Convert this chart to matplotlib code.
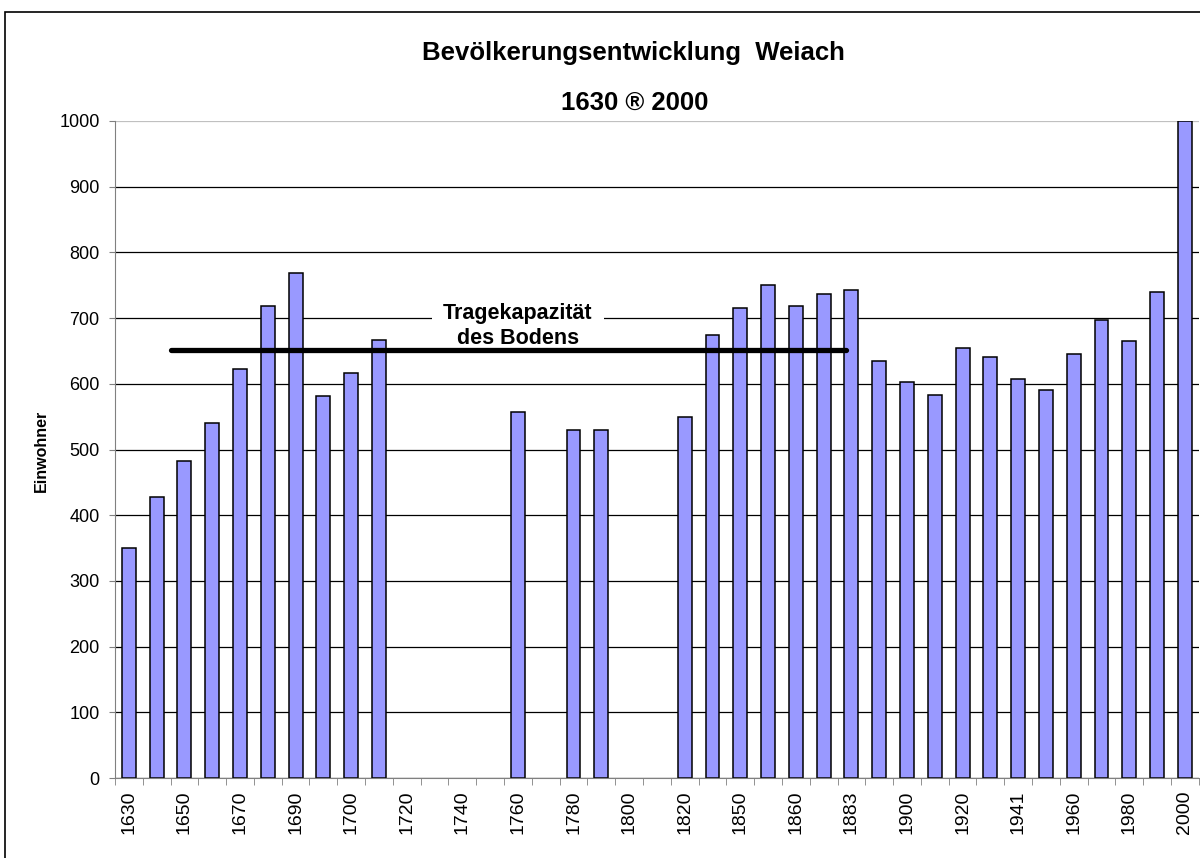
import numpy as np
import matplotlib.pyplot as plt
from matplotlib.patches import Rectangle

plt.rcParams['font.family'] = ['Liberation Sans', 'DejaVu Sans']

# 39 Kategorien, nur jede zweite beschriftet
labels = ['1630', '', '1650', '', '1670', '', '1690', '', '1700', '',
          '1720', '', '1740', '', '1760', '', '1780', '', '1800', '',
          '1820', '', '1850', '', '1860', '', '1883', '', '1900', '',
          '1920', '', '1941', '', '1960', '', '1980', '', '2000']

# Einwohner (nan = kein Wert)
einwohner = [350, 428, 482, 540, 622, 719, 768, 582, 617, 667,
             np.nan, np.nan, np.nan, np.nan, 557, np.nan, 529, 529, np.nan, np.nan,
             550, 674, 716, 751, 718, 737, 742, 634, 602, 583,
             655, 641, 608, 590, 645, 697, 665, 740, 1000]

tragekapazitaet = 651
linie_von, linie_bis = 1.5, 25.8

fig = plt.figure(figsize=(12, 8.58), dpi=100)
ax = fig.add_axes([0.0958, 0.0932, 0.9032, 0.7658])

x = np.arange(len(labels))
ax.bar(x, einwohner, width=0.5, color='#9999FF', edgecolor='black', linewidth=1.1, zorder=2)

ax.set_xlim(-0.5, len(labels) - 0.5)
ax.set_ylim(0, 1000)
ax.set_yticks(np.arange(0, 1001, 100))
ax.yaxis.grid(True, color='black', linewidth=0.9)
ax.get_ygridlines()[-1].set_color('#c0c0c0')
ax.set_axisbelow(True)

ax.set_xticks(x[::2])
ax.set_xticklabels(labels[::2], rotation=90, fontsize=14)
ax.set_xticks(np.arange(-0.5, len(labels), 1), minor=True)
ax.tick_params(axis='x', which='major', length=0, pad=9)
ax.tick_params(axis='x', which='minor', length=5, color='#808080')
ax.tick_params(axis='y', length=4, color='#808080', labelsize=13, pad=7)

for s in ['top', 'right']:
    ax.spines[s].set_visible(False)
for s in ['left', 'bottom']:
    ax.spines[s].set_color('#808080')

fig.text(41 / 1200, 1 - 451 / 858, 'Einwohner', rotation=90, ha='center', va='center',
         fontsize=11.5, fontweight='bold')

ax.plot([linie_von, linie_bis], [tragekapazitaet, tragekapazitaet], color='black',
        linewidth=3.8, solid_capstyle='round', zorder=4)
ax.text(14, 688, 'Tragekapazität\ndes Bodens', ha='center', va='center', fontsize=15.5,
        fontweight='bold', linespacing=1.2, zorder=3,
        bbox=dict(facecolor='white', edgecolor='none', pad=8))

fig.text(0.5277, 0.938, 'Bevölkerungsentwicklung  Weiach', ha='center', va='center',
         fontsize=18.5, fontweight='bold')
fig.text(0.5285, 0.880, '1630 ® 2000', ha='center', va='center',
         fontsize=18.5, fontweight='bold')

fig.patches.append(Rectangle((0.004, -0.05), 1.2, 1 - 12 / 858 + 0.05, transform=fig.transFigure,
                             fill=False, edgecolor='black', linewidth=1.2))

fig.savefig('out.png', dpi=100)
